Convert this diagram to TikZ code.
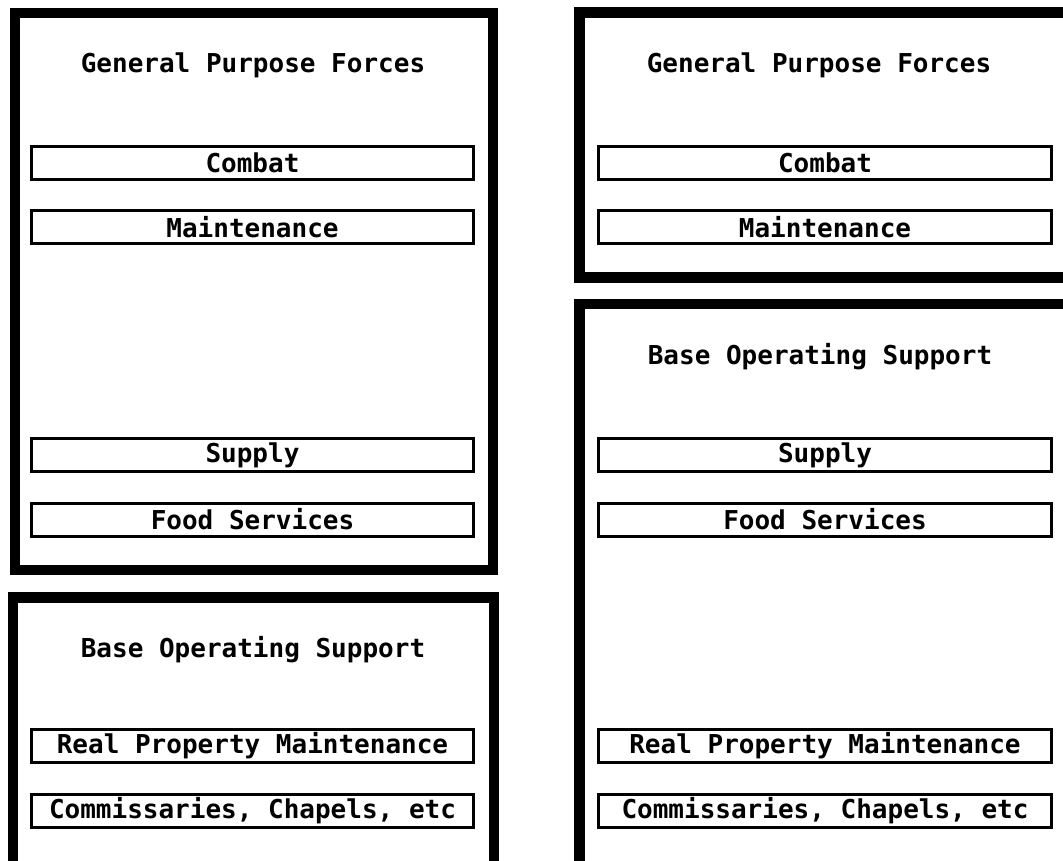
\documentclass[tikz,border=0pt]{standalone}
\usepackage{fontspec}
\setmonofont{DejaVu Sans Mono}
\begin{document}
\begin{tikzpicture}[x=1pt,y=-1pt,
  lbl/.style={font=\fontsize{26}{30}\selectfont\ttfamily\bfseries, inner sep=0pt},
  frame/.style={draw, line width=10.5pt, inner sep=0pt},
  item/.style={draw, line width=3pt, inner sep=0pt, minimum height=33pt,
               font=\fontsize{26}{30}\selectfont\ttfamily\bfseries},
  itemL/.style={item, minimum width=442pt},
  itemR/.style={item, minimum width=453pt}]
\useasboundingbox (0,0) rectangle (1063,860);
\fill[white] (0,0) rectangle (1063,860);
\clip (0,0) rectangle (1063,860);

% left column: general purpose forces
\node[frame, minimum width=478pt, minimum height=557pt] (gpfL) at (254,291.5) {};
\node[lbl] (gpfLt) at (253,65) {General Purpose Forces};
\node[itemL] (combL) at (252.5,162.5) {Combat};
\node[itemL] (mainL) at (252.5,227) {Maintenance};
\node[itemL] (supL)  at (252.5,455) {Supply};
\node[itemL] (foodL) at (252.5,519.5) {Food Services};

% left column: base operating support
\node[frame, minimum width=481pt, minimum height=290pt] (bosL) at (253.5,742.5) {};
\node[lbl] (bosLt) at (253,650) {Base Operating Support};
\node[itemL] (realL) at (252.5,746) {Real Property Maintenance};
\node[itemL] (commL) at (252.5,810.5) {Commissaries, Chapels, etc};

% right column: general purpose forces
\node[frame, minimum width=520pt, minimum height=265pt] (gpfR) at (839.5,145) {};
\node[lbl] (gpfRt) at (819,65) {General Purpose Forces};
\node[itemR] (combR) at (825,162.5) {Combat};
\node[itemR] (mainR) at (825,227) {Maintenance};

% right column: base operating support
\node[frame, minimum width=520pt, minimum height=590pt] (bosR) at (839.5,599) {};
\node[lbl] (bosRt) at (820,357) {Base Operating Support};
\node[itemR] (supR)  at (825,455) {Supply};
\node[itemR] (foodR) at (825,519.5) {Food Services};
\node[itemR] (realR) at (825,746) {Real Property Maintenance};
\node[itemR] (commR) at (825,810.5) {Commissaries, Chapels, etc};
\end{tikzpicture}
\end{document}
